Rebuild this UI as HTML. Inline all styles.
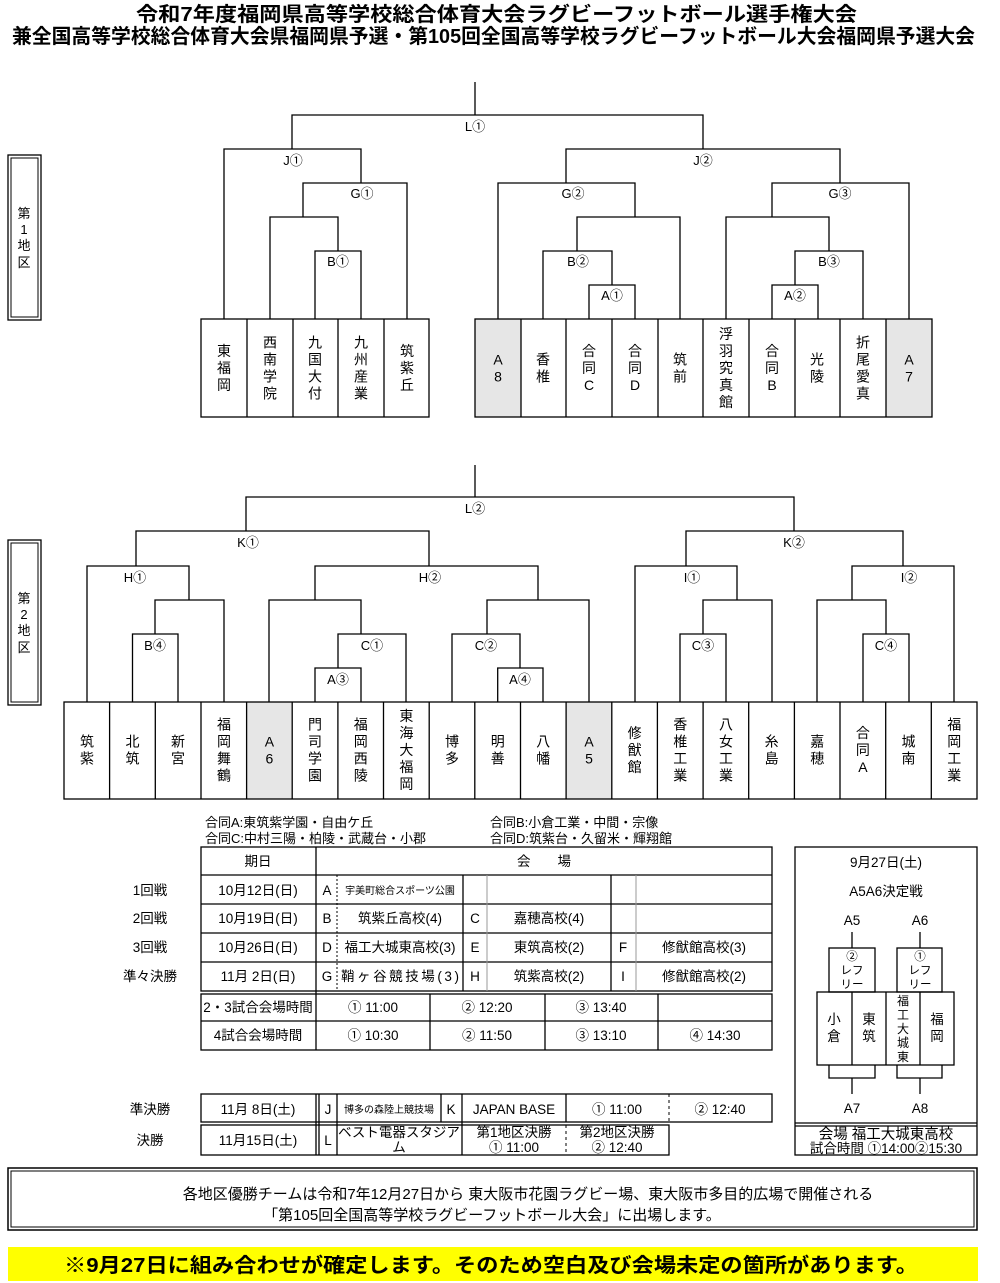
<!DOCTYPE html>
<html><head><meta charset="utf-8"><style>
html,body{margin:0;padding:0;background:#fff;}
svg{display:block;font-family:"Liberation Sans","Noto Sans CJK JP",sans-serif;}
</style></head><body>
<svg width="1000" height="1283" viewBox="0 0 1000 1283" xmlns="http://www.w3.org/2000/svg">
<g font-weight="bold" font-size="20" text-anchor="start">
<text x="136" y="21" textLength="721" lengthAdjust="spacingAndGlyphs">令和7年度福岡県高等学校総合体育大会ラグビーフットボール選手権大会</text>
<text x="12" y="43" textLength="963" lengthAdjust="spacingAndGlyphs">兼全国高等学校総合体育大会県福岡県予選・第105回全国高等学校ラグビーフットボール大会福岡県予選大会</text>
</g>

<g fill="none" stroke="#000">
<rect x="8" y="155" width="33" height="165" stroke-width="1.3"/>
<rect x="11" y="158" width="27" height="159" stroke-width="1"/>
<rect x="8" y="540" width="33" height="165" stroke-width="1.3"/>
<rect x="11" y="543" width="27" height="159" stroke-width="1"/>
</g>
<g font-size="13" text-anchor="middle">
<text x="24" y="218">第</text><text x="24" y="234">1</text><text x="24" y="250">地</text><text x="24" y="267">区</text>
<text x="24" y="603">第</text><text x="24" y="619">2</text><text x="24" y="635">地</text><text x="24" y="652">区</text>
</g>

<g fill="#e6e6e6">
<rect x="475" y="319" width="46" height="98"/><rect x="886" y="319" width="46" height="98"/>
<rect x="246" y="702" width="45.6" height="97"/><rect x="566" y="702" width="45.6" height="97"/>
</g>

<g fill="none" stroke="#000" stroke-width="1.3">
<rect x="201" y="319" width="228" height="98"/>
<path d="M247 319V417M293 319V417M338 319V417M384 319V417"/>
<rect x="475" y="319" width="457" height="98"/>
<path d="M521 319V417M566 319V417M612 319V417M658 319V417M703 319V417M749 319V417M795 319V417M840 319V417M886 319V417"/>
<path d="M475 82V115M292 149V115H703V149"/>
<path d="M224 319V149H361V183M303 217V183H407V319M270 319V217H338V251M315 319V251H361V319"/>
<path d="M566 183V149H840V183M498 319V183H635V217M577 251V217H680V319M543 319V251H612V285M589 319V285H635V319"/>
<path d="M772 217V183H909V319M726 319V217H829V251M795 285V251H863V319M772 319V285H818V319"/>
</g>
<g font-size="13" text-anchor="middle">
<text x="475" y="131">L①</text><text x="293" y="165">J①</text><text x="362" y="198">G①</text><text x="338" y="266">B①</text>
<text x="703" y="165">J②</text><text x="573" y="198">G②</text><text x="840" y="198">G③</text><text x="578" y="266">B②</text><text x="612" y="300">A①</text><text x="829" y="266">B③</text><text x="795" y="300">A②</text>
</g>
<g font-size="14" text-anchor="middle">
<text><tspan x="224" y="356">東</tspan><tspan x="224" y="373">福</tspan><tspan x="224" y="390">岡</tspan></text>
<text><tspan x="270" y="347.5">西</tspan><tspan x="270" y="364.5">南</tspan><tspan x="270" y="381.5">学</tspan><tspan x="270" y="398.5">院</tspan></text>
<text><tspan x="315" y="347.5">九</tspan><tspan x="315" y="364.5">国</tspan><tspan x="315" y="381.5">大</tspan><tspan x="315" y="398.5">付</tspan></text>
<text><tspan x="361" y="347.5">九</tspan><tspan x="361" y="364.5">州</tspan><tspan x="361" y="381.5">産</tspan><tspan x="361" y="398.5">業</tspan></text>
<text><tspan x="407" y="356">筑</tspan><tspan x="407" y="373">紫</tspan><tspan x="407" y="390">丘</tspan></text>
<text><tspan x="498" y="364.5">A</tspan><tspan x="498" y="381.5">8</tspan></text>
<text><tspan x="543" y="364.5">香</tspan><tspan x="543" y="381.5">椎</tspan></text>
<text><tspan x="589" y="356">合</tspan><tspan x="589" y="373">同</tspan><tspan x="589" y="390">C</tspan></text>
<text><tspan x="635" y="356">合</tspan><tspan x="635" y="373">同</tspan><tspan x="635" y="390">D</tspan></text>
<text><tspan x="680" y="364.5">筑</tspan><tspan x="680" y="381.5">前</tspan></text>
<text><tspan x="726" y="339">浮</tspan><tspan x="726" y="356">羽</tspan><tspan x="726" y="373">究</tspan><tspan x="726" y="390">真</tspan><tspan x="726" y="407">館</tspan></text>
<text><tspan x="772" y="356">合</tspan><tspan x="772" y="373">同</tspan><tspan x="772" y="390">B</tspan></text>
<text><tspan x="817" y="364.5">光</tspan><tspan x="817" y="381.5">陵</tspan></text>
<text><tspan x="863" y="347.5">折</tspan><tspan x="863" y="364.5">尾</tspan><tspan x="863" y="381.5">愛</tspan><tspan x="863" y="398.5">真</tspan></text>
<text><tspan x="909" y="364.5">A</tspan><tspan x="909" y="381.5">7</tspan></text>
</g>

<g fill="none" stroke="#000" stroke-width="1.3">
<rect x="64" y="702" width="913" height="97"/>
<path d="M109.6 702V799M155.3 702V799M201 702V799M246.6 702V799M292.2 702V799M337.9 702V799M383.5 702V799M429.2 702V799M474.8 702V799M520.5 702V799M566.1 702V799M611.8 702V799M657.4 702V799M703.1 702V799M748.7 702V799M794.4 702V799M840 702V799M885.7 702V799M931.3 702V799"/>
<path d="M475 465V497M246 531V497H794V531"/>
<path d="M136 566V531H429V566M686 566V531H903V566"/>
<path d="M87 702V566H189V600M155 634V600H224V702M132.5 702V634H178V702"/>
<path d="M315 600V566H538V600M269 702V600H361V634M338 668V634H406V702M315 702V668H361V702"/>
<path d="M487 634V600H589V702M452 702V634H520V668M497.7 702V668H543V702"/>
<path d="M635 702V566H737V600M703 634V600H772V702M680 702V634H726V702"/>
<path d="M852 600V566H954V702M817 702V600H886V634M863 702V634H909V702"/>
</g>
<g font-size="13" text-anchor="middle">
<text x="475" y="513">L②</text><text x="248" y="547">K①</text><text x="794" y="547">K②</text>
<text x="135" y="582">H①</text><text x="430" y="582">H②</text><text x="692" y="582">I①</text><text x="909" y="582">I②</text>
<text x="155" y="650">B④</text><text x="372" y="650">C①</text><text x="486" y="650">C②</text><text x="703" y="650">C③</text><text x="886" y="650">C④</text>
<text x="338" y="684">A③</text><text x="520" y="684">A④</text>
</g>
<g font-size="14" text-anchor="middle">
<text><tspan x="87" y="746.5">筑</tspan><tspan x="87" y="763.5">紫</tspan></text>
<text><tspan x="132.5" y="746.5">北</tspan><tspan x="132.5" y="763.5">筑</tspan></text>
<text><tspan x="178" y="746.5">新</tspan><tspan x="178" y="763.5">宮</tspan></text>
<text><tspan x="224" y="729.5">福</tspan><tspan x="224" y="746.5">岡</tspan><tspan x="224" y="763.5">舞</tspan><tspan x="224" y="780.5">鶴</tspan></text>
<text><tspan x="269.4" y="746.5">A</tspan><tspan x="269.4" y="763.5">6</tspan></text>
<text><tspan x="315" y="729.5">門</tspan><tspan x="315" y="746.5">司</tspan><tspan x="315" y="763.5">学</tspan><tspan x="315" y="780.5">園</tspan></text>
<text><tspan x="360.7" y="729.5">福</tspan><tspan x="360.7" y="746.5">岡</tspan><tspan x="360.7" y="763.5">西</tspan><tspan x="360.7" y="780.5">陵</tspan></text>
<text><tspan x="406.4" y="721">東</tspan><tspan x="406.4" y="738">海</tspan><tspan x="406.4" y="755">大</tspan><tspan x="406.4" y="772">福</tspan><tspan x="406.4" y="789">岡</tspan></text>
<text><tspan x="452" y="746.5">博</tspan><tspan x="452" y="763.5">多</tspan></text>
<text><tspan x="497.7" y="746.5">明</tspan><tspan x="497.7" y="763.5">善</tspan></text>
<text><tspan x="543.3" y="746.5">八</tspan><tspan x="543.3" y="763.5">幡</tspan></text>
<text><tspan x="589" y="746.5">A</tspan><tspan x="589" y="763.5">5</tspan></text>
<text><tspan x="634.6" y="738">修</tspan><tspan x="634.6" y="755">猷</tspan><tspan x="634.6" y="772">館</tspan></text>
<text><tspan x="680.3" y="729.5">香</tspan><tspan x="680.3" y="746.5">椎</tspan><tspan x="680.3" y="763.5">工</tspan><tspan x="680.3" y="780.5">業</tspan></text>
<text><tspan x="726" y="729.5">八</tspan><tspan x="726" y="746.5">女</tspan><tspan x="726" y="763.5">工</tspan><tspan x="726" y="780.5">業</tspan></text>
<text><tspan x="771.6" y="746.5">糸</tspan><tspan x="771.6" y="763.5">島</tspan></text>
<text><tspan x="817.2" y="746.5">嘉</tspan><tspan x="817.2" y="763.5">穂</tspan></text>
<text><tspan x="862.9" y="738">合</tspan><tspan x="862.9" y="755">同</tspan><tspan x="862.9" y="772">A</tspan></text>
<text><tspan x="908.5" y="746.5">城</tspan><tspan x="908.5" y="763.5">南</tspan></text>
<text><tspan x="954.2" y="729.5">福</tspan><tspan x="954.2" y="746.5">岡</tspan><tspan x="954.2" y="763.5">工</tspan><tspan x="954.2" y="780.5">業</tspan></text>
</g>

<g font-size="13">
<text x="205" y="827">合同A:東筑紫学園・自由ケ丘</text>
<text x="205" y="843">合同C:中村三陽・柏陵・武蔵台・小郡</text>
<text x="490" y="827">合同B:小倉工業・中間・宗像</text>
<text x="490" y="843">合同D:筑紫台・久留米・輝翔館</text>
</g>

<g fill="none" stroke="#000" stroke-width="1.3">
<rect x="201" y="847" width="571" height="144"/>
<rect x="201" y="994" width="571" height="56"/>
<path d="M201 875H772M201 904H772M201 933H772M201 962H772M201 1021H772"/>
<path d="M316 847V1050M463 875V991M611 875V991M430 994V1050M545 994V1050M658 994V1050"/>
</g>
<path d="M487 875V991M636 875V991" stroke="#999" stroke-width="1"/>
<path d="M337 875V991" stroke="#000" stroke-width="1" stroke-dasharray="2,2"/>
<g font-size="13.5" text-anchor="middle">
<text x="258" y="866">期日</text><text x="544" y="866">会　　場</text>
<text x="150" y="895">1回戦</text><text x="150" y="923">2回戦</text><text x="150" y="952">3回戦</text><text x="150" y="981">準々決勝</text>
<text x="258" y="895">10月12日(日)</text><text x="258" y="923">10月19日(日)</text><text x="258" y="952">10月26日(日)</text><text x="258" y="981">11月 2日(日)</text>
<text x="327" y="895">A</text><text x="327" y="923">B</text><text x="327" y="952">D</text><text x="327" y="981">G</text>
<text x="400" y="894" font-size="10">宇美町総合スポーツ公園</text>
<text x="400" y="923">筑紫丘高校(4)</text><text x="400" y="952">福工大城東高校(3)</text><text x="400" y="981" textLength="118">鞘ヶ谷競技場(3)</text>
<text x="475" y="923">C</text><text x="475" y="952">E</text><text x="475" y="981">H</text>
<text x="549" y="923">嘉穂高校(4)</text><text x="549" y="952">東筑高校(2)</text><text x="549" y="981">筑紫高校(2)</text>
<text x="623" y="952">F</text><text x="623" y="981">I</text>
<text x="704" y="952">修猷館高校(3)</text><text x="704" y="981">修猷館高校(2)</text>
<text x="258" y="1012">2・3試合会場時間</text><text x="373" y="1012">①  11:00</text><text x="487" y="1012">②  12:20</text><text x="601" y="1012">③  13:40</text>
<text x="258" y="1040">4試合会場時間</text><text x="373" y="1040">①  10:30</text><text x="487" y="1040">②  11:50</text><text x="601" y="1040">③  13:10</text><text x="715" y="1040">④  14:30</text>
</g>

<g fill="none" stroke="#000" stroke-width="1.3">
<rect x="201" y="1094" width="571" height="28"/>
<rect x="201" y="1125" width="468" height="30"/>
<path d="M316 1094V1155M319 1094V1155M337 1094V1155M441 1094V1122M462 1094V1155M566 1094V1122"/>
</g>
<path d="M669 1094V1122M566 1125V1155" stroke="#000" stroke-width="1" stroke-dasharray="3,3"/>
<g font-size="13.5" text-anchor="middle">
<text x="150" y="1114">準決勝</text><text x="150" y="1145">決勝</text>
<text x="258" y="1114">11月  8日(土)</text><text x="328" y="1114">J</text>
<text x="389" y="1113" font-size="10">博多の森陸上競技場</text>
<text x="451" y="1114">K</text><text x="514" y="1114">JAPAN BASE</text>
<text x="617" y="1114">①  11:00</text><text x="720" y="1114">②  12:40</text>
<text x="258" y="1145">11月15日(土)</text><text x="328" y="1145">L</text>
<text x="399" y="1137">ベスト電器スタジア</text><text x="399" y="1152">ム</text>
<text x="514" y="1137">第1地区決勝</text><text x="514" y="1152">①  11:00</text>
<text x="617" y="1137">第2地区決勝</text><text x="617" y="1152">②  12:40</text>
</g>

<g fill="none" stroke="#000" stroke-width="1.3">
<rect x="795" y="847" width="182" height="308"/>
<path d="M795 1123H977M795 1126H977"/>
<path d="M852 932V948M920 932V948"/>
<rect x="829" y="948" width="46" height="44"/><rect x="897" y="948" width="45" height="44"/>
<rect x="817" y="992" width="137" height="73"/>
<path d="M852 992V1065M886 992V1065M920 992V1065"/>
<path d="M829 1065V1078H875V1065M852 1078V1094M897 1065V1078H942V1065M920 1078V1094"/>
</g>
<g font-size="13.5" text-anchor="middle">
<text x="886" y="867">9月27日(土)</text><text x="886" y="896">A5A6決定戦</text>
<text x="852" y="925">A5</text><text x="920" y="925">A6</text>
<text x="852" y="960" font-size="11.5">②</text><text x="852" y="974" font-size="11.5">レフ</text><text x="852" y="988" font-size="11.5">リー</text>
<text x="920" y="960" font-size="11.5">①</text><text x="920" y="974" font-size="11.5">レフ</text><text x="920" y="988" font-size="11.5">リー</text>
<text x="834" y="1024">小</text><text x="834" y="1041">倉</text>
<text x="869" y="1024">東</text><text x="869" y="1041">筑</text>
<text x="903" y="1005" font-size="12">福</text><text x="903" y="1019" font-size="12">工</text><text x="903" y="1033" font-size="12">大</text><text x="903" y="1047" font-size="12">城</text><text x="903" y="1061" font-size="12">東</text>
<text x="937" y="1024">福</text><text x="937" y="1041">岡</text>
<text x="852" y="1113">A7</text><text x="920" y="1113">A8</text>
<text x="886" y="1139" font-size="14.5">会場  福工大城東高校</text>
<text x="886" y="1153" font-size="13.5">試合時間  ①14:00②15:30</text>
</g>

<g fill="none" stroke="#000">
<rect x="8" y="1168" width="969" height="62" stroke-width="1.5"/>
<rect x="11" y="1171" width="963" height="56" stroke-width="1"/>
</g>
<g font-size="15" text-anchor="middle">
<text x="528" y="1199">各地区優勝チームは令和7年12月27日から 東大阪市花園ラグビー場、東大阪市多目的広場で開催される</text>
<text x="492" y="1220">「第105回全国高等学校ラグビーフットボール大会」に出場します。</text>
</g>
<rect x="8" y="1247" width="970" height="34" fill="#ffff00"/>
<text x="64" y="1272" font-size="20" font-weight="bold" textLength="854" lengthAdjust="spacingAndGlyphs">※9月27日に組み合わせが確定します。そのため空白及び会場未定の箇所があります。</text>
</svg>
</body></html>
